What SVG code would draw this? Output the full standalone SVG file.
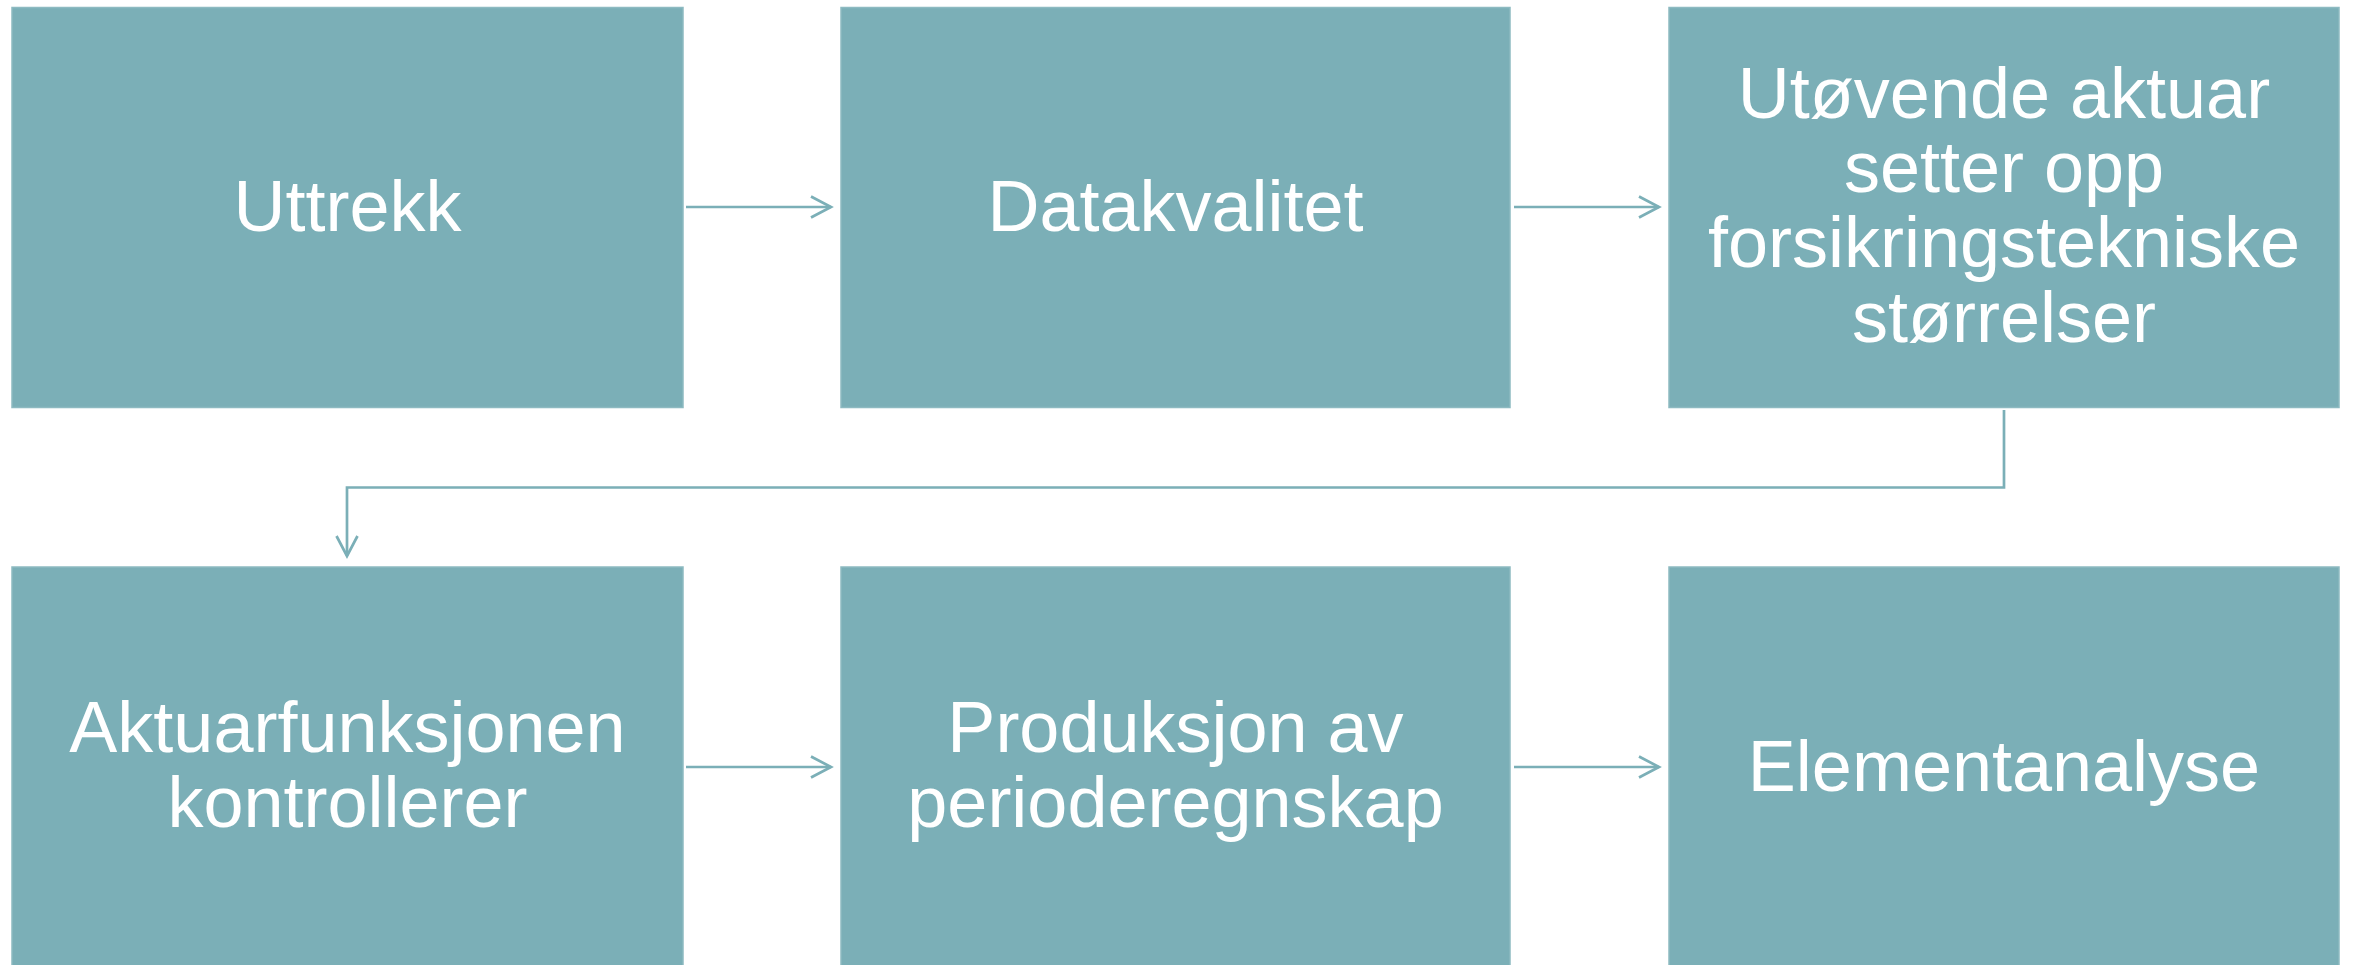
<svg xmlns="http://www.w3.org/2000/svg" width="2354" height="965" viewBox="0 0 2354 965">
<style>
.box{fill:#7BAFB7;stroke:#8DBAC1;stroke-width:1.5}
.lbl{font-family:"Liberation Sans",Arial,sans-serif;font-size:72px;fill:#FFFFFF;text-anchor:middle}
.con{fill:none;stroke:#7BAFB7;stroke-width:2.7}
</style>
<defs>
<marker id="arr" markerUnits="userSpaceOnUse" markerWidth="26" markerHeight="26" viewBox="-23 -13 26 26" refX="0" refY="0" orient="auto">
<path d="M-20,-10.5 L0,0 L-20,10.5" fill="none" stroke="#7BAFB7" stroke-width="2.7"/>
</marker>
</defs>
<rect width="2354" height="965" fill="#FFFFFF"/>
<g id="node-uttrekk">
<rect class="box" x="12" y="7.5" width="671" height="400"/>
<text class="lbl" x="347.5" y="231">Uttrekk</text>
</g>
<g id="node-datakvalitet">
<rect class="box" x="841" y="7.5" width="669" height="400"/>
<text class="lbl" x="1175.5" y="231">Datakvalitet</text>
</g>
<g id="node-utovende">
<rect class="box" x="1669" y="7.5" width="670" height="400"/>
<text class="lbl" x="2004" y="118">Utøvende aktuar</text>
<text class="lbl" x="2004" y="192">setter opp</text>
<text class="lbl" x="2004" y="267">forsikringstekniske</text>
<text class="lbl" x="2004" y="342">størrelser</text>
</g>
<g id="node-aktuarfunksjonen">
<rect class="box" x="12" y="567" width="671" height="400"/>
<text class="lbl" x="347.5" y="752">Aktuarfunksjonen</text>
<text class="lbl" x="347.5" y="827">kontrollerer</text>
</g>
<g id="node-produksjon">
<rect class="box" x="841" y="567" width="669" height="400"/>
<text class="lbl" x="1175.5" y="752">Produksjon av</text>
<text class="lbl" x="1175.5" y="827">perioderegnskap</text>
</g>
<g id="node-elementanalyse">
<rect class="box" x="1669" y="567" width="670" height="400"/>
<text class="lbl" x="2004" y="791">Elementanalyse</text>
</g>
<g id="connectors">
<path class="con" d="M686,207 H831" marker-end="url(#arr)"/>
<path class="con" d="M1514,207 H1659" marker-end="url(#arr)"/>
<path class="con" d="M2004,410 V487.5 H347 V556" marker-end="url(#arr)"/>
<path class="con" d="M686,767 H831" marker-end="url(#arr)"/>
<path class="con" d="M1514,767 H1659" marker-end="url(#arr)"/>
</g>
</svg>
